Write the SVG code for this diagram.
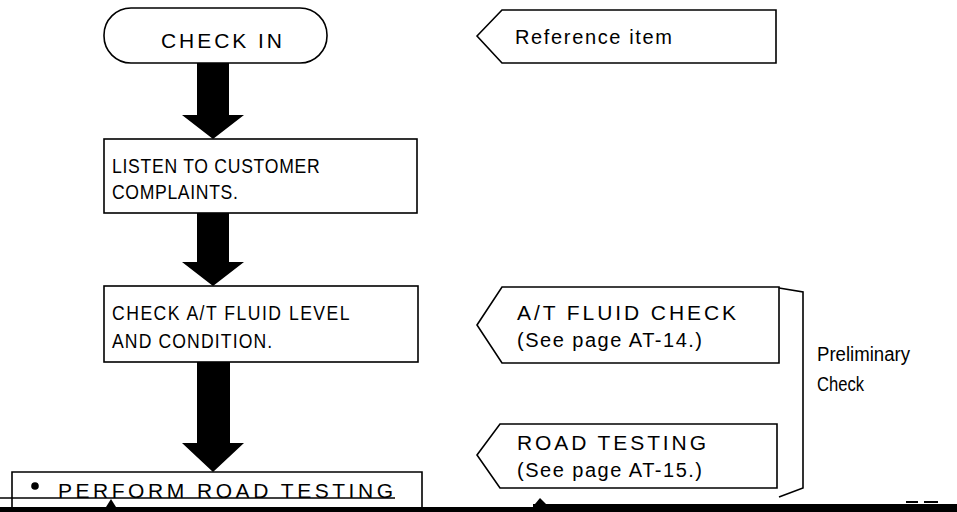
<svg xmlns="http://www.w3.org/2000/svg" width="957" height="512" viewBox="0 0 957 512">
<style>
.box{fill:#fff;stroke:#000;stroke-width:1.6}
.t{font-family:"Liberation Sans",Arial,sans-serif;font-size:20px;fill:#000}
.r{font-family:"Liberation Sans",Arial,sans-serif;font-size:21px;fill:#000}
.l{font-family:"Liberation Sans",Arial,sans-serif;font-size:20px;fill:#000}
.arr{fill:#000}
</style>
<rect width="957" height="512" fill="#fff"/>
<g id="connectors">
<polygon class="arr" points="197,63 229,63 229,115 244,115 213,139 182,115 197,115"/>
<polygon class="arr" points="197,213 229,213 229,262 244,262 213,286 182,262 197,262"/>
<polygon class="arr" points="197,362 230,362 230,443 244,443 213,472 182,443 197,443"/>
</g>
<g id="check-in">
<rect class="box" x="104" y="8" width="223" height="55" rx="27" ry="27"/>
<text class="r" x="161" y="48" textLength="121" lengthAdjust="spacing">CHECK  IN</text>
</g>
<g id="listen">
<rect class="box" x="104" y="139" width="313" height="74"/>
<text class="t" transform="translate(112,173) scale(0.88,1)" x="0" y="0" textLength="236" lengthAdjust="spacing">LISTEN TO CUSTOMER</text>
<text class="t" transform="translate(112,199) scale(0.88,1)" x="0" y="0" textLength="143" lengthAdjust="spacing">COMPLAINTS.</text>
</g>
<g id="check-fluid">
<rect class="box" x="104" y="286" width="314" height="76"/>
<text class="t" transform="translate(112,320) scale(0.88,1)" x="0" y="0" textLength="270" lengthAdjust="spacing">CHECK A/T FLUID LEVEL</text>
<text class="t" transform="translate(112,348) scale(0.88,1)" x="0" y="0" textLength="182" lengthAdjust="spacing">AND CONDITION.</text>
</g>
<g id="road-test">
<polyline points="12,512 12,472 422,472 422,512" fill="#fff" stroke="#000" stroke-width="1.6"/>
<line x1="0" y1="498" x2="395" y2="498" stroke="#000" stroke-width="1.4"/>
<circle cx="35" cy="486" r="3.8" fill="#000"/>
<text class="r" x="58" y="498" textLength="335" lengthAdjust="spacing">PERFORM ROAD TESTING</text>
</g>
<g id="reference-item">
<polygon class="box" points="477,36 502,10 776,10 776,63 502,63"/>
<text class="l" x="515" y="44" textLength="157" lengthAdjust="spacing">Reference item</text>
</g>
<g id="fluid-check-ref">
<polygon class="box" points="477,325 502,287 779,287 779,363 502,363"/>
<text class="r" x="517" y="320" textLength="219" lengthAdjust="spacing">A/T FLUID CHECK</text>
<text class="l" x="517" y="347" textLength="185" lengthAdjust="spacing">(See page AT-14.)</text>
</g>
<g id="road-testing-ref">
<polygon class="box" points="477,455 500,424 777,424 777,488 500,488"/>
<text class="r" x="517" y="450" textLength="189" lengthAdjust="spacing">ROAD TESTING</text>
<text class="l" x="517" y="477" textLength="185" lengthAdjust="spacing">(See page AT-15.)</text>
</g>
<g id="preliminary">
<polyline points="779,288 803,292 803,488 779,497" fill="none" stroke="#000" stroke-width="1.6"/>
<text class="l" x="817" y="361" textLength="93" lengthAdjust="spacingAndGlyphs">Preliminary</text>
<text class="l" x="817" y="391" textLength="47" lengthAdjust="spacingAndGlyphs">Check</text>
</g>
<g id="bottom-edge">
<rect x="0" y="507" width="957" height="5" fill="#000"/>
<rect x="533" y="504" width="424" height="8" fill="#000"/>
<polygon points="106,507 111,499 116,507" fill="#000"/>
<polygon points="535,504 540,498 546,504" fill="#000"/>
<rect x="906" y="501" width="12" height="2" fill="#000"/>
<rect x="924" y="501" width="14" height="2" fill="#000"/>
</g>
</svg>
